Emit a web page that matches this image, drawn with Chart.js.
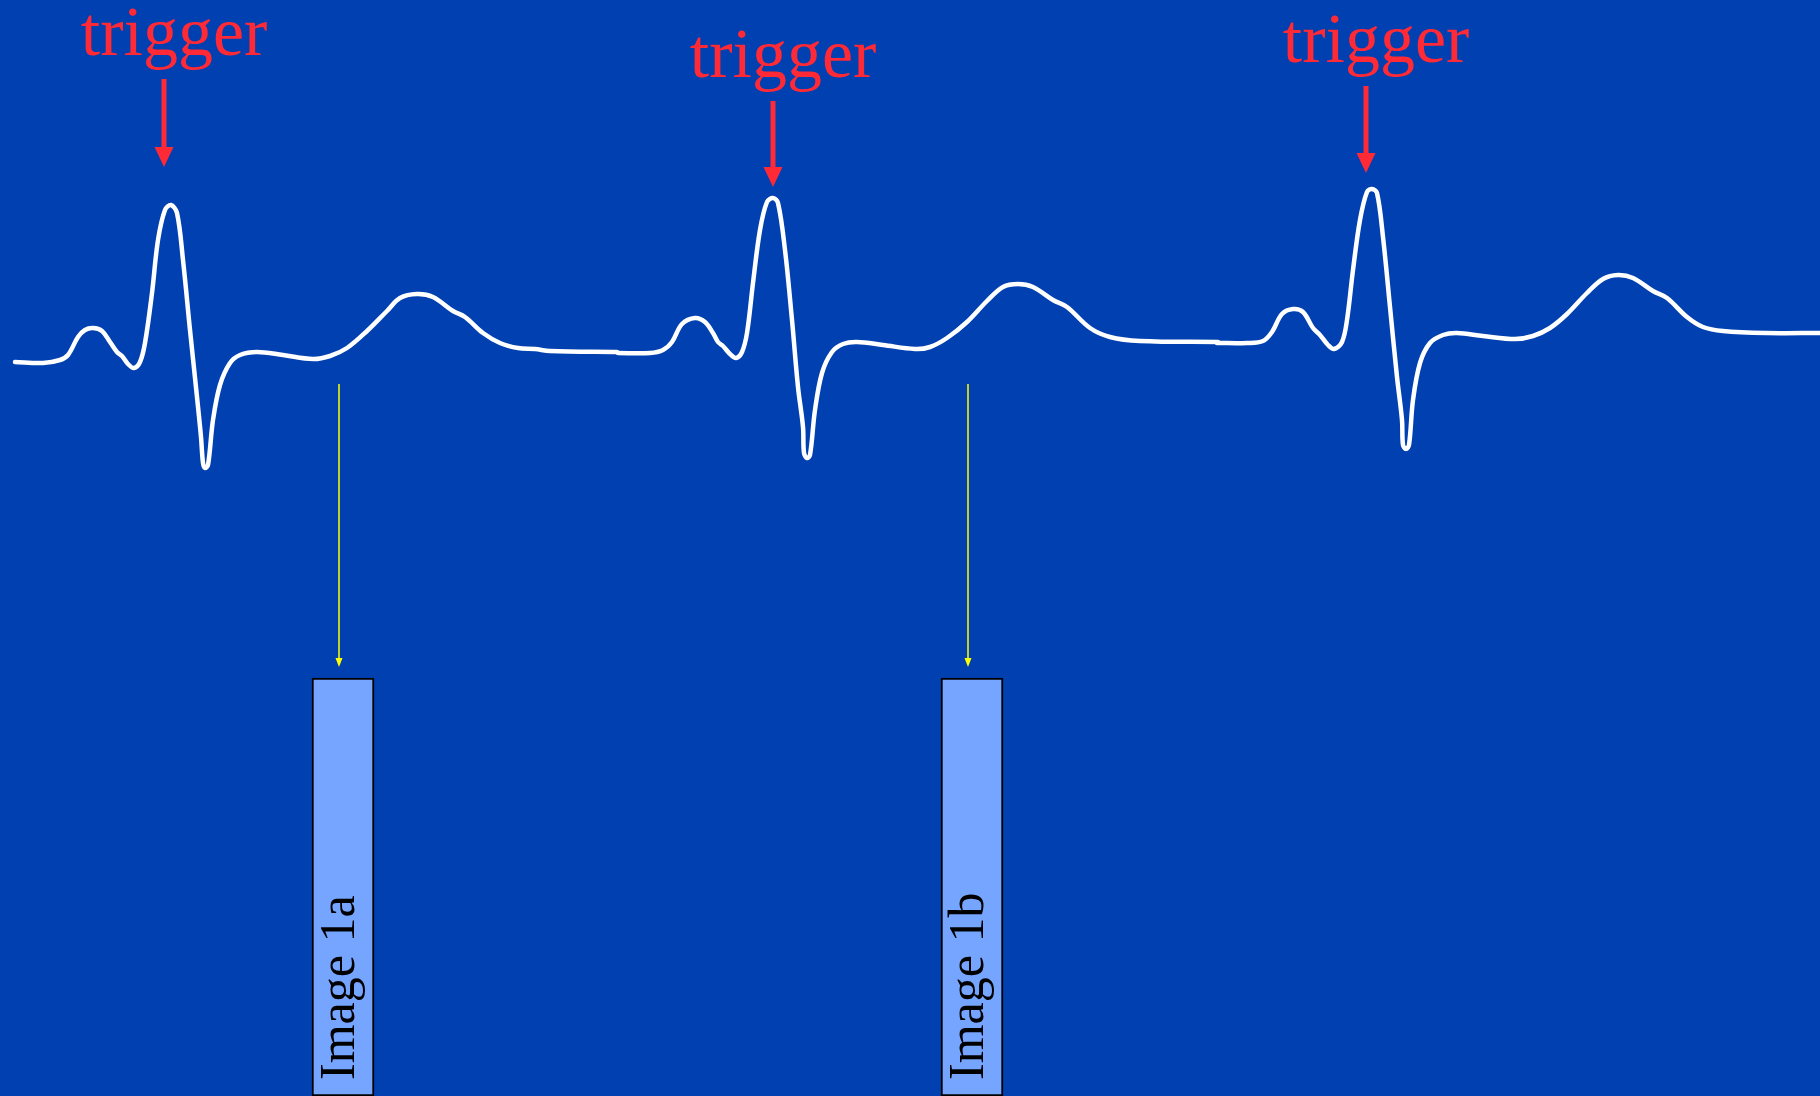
<!DOCTYPE html>
<html>
<head>
<meta charset="utf-8">
<title>ECG trigger</title>
<script src="https://cdn.jsdelivr.net/npm/chart.js@4.4.1/dist/chart.umd.min.js"></script>
<style>
    html, body { margin: 0; padding: 0; background: #0040b0; overflow: hidden; }
    canvas { display: block; }
</style>
</head>
<body>
<canvas id="ecgChart" width="1820" height="1096"></canvas>
<script>
// ECG beats (t = time units, v = amplitude units)
const beat1T = [15, 43, 60, 68, 78, 85, 93, 102, 110, 117, 122, 128, 134, 140, 145, 152, 158, 165, 171, 177, 183, 190, 197, 201, 203, 205, 208, 213, 220, 230, 240, 257, 283, 313, 330, 347, 367, 387, 400, 417, 433, 453, 465, 483, 500, 518, 535, 550, 617];
const beat1V = [38, 37, 40, 45, 63, 70, 72, 69, 58, 48, 44, 36, 32, 38, 57, 107, 160, 190, 195, 187, 140, 70, 3, -37, -63, -68, -65, -20, 15, 37, 45, 48, 45, 41, 44, 52, 69, 89, 102, 106, 103, 89, 83, 67, 57, 52, 51, 49, 48];

const beat2T = [618, 650, 663, 672, 682, 695, 705, 713, 718, 723, 730, 736, 742, 747, 753, 760, 767, 773, 778, 785, 792, 798, 803, 804, 807, 810, 815, 822, 832, 843, 857, 883, 915, 930, 947, 967, 987, 1003, 1018, 1033, 1053, 1067, 1090, 1110, 1140, 1218];
const beat2V = [47, 47, 50, 58, 76, 82, 78, 67, 58, 54, 46, 42, 48, 67, 117, 170, 198, 202, 197, 150, 80, 13, -27, -53, -58, -55, -10, 27, 48, 56, 58, 55, 51, 53, 62, 78, 99, 113, 116, 113, 100, 93, 72, 63, 59, 58];

const beat3T = [1217, 1247, 1263, 1272, 1282, 1293, 1303, 1313, 1320, 1328, 1334, 1342, 1347, 1353, 1360, 1367, 1372, 1377, 1383, 1390, 1397, 1402, 1403, 1406, 1409, 1413, 1420, 1430, 1443, 1457, 1483, 1515, 1533, 1550, 1567, 1587, 1603, 1618, 1633, 1653, 1667, 1687, 1703, 1723, 1767, 1820];
const beat3V = [57, 57, 59, 68, 86, 91, 88, 72, 65, 55, 51, 58, 80, 130, 180, 208, 211, 207, 163, 93, 23, -20, -45, -49, -45, 0, 37, 57, 65, 67, 64, 61, 64, 72, 86, 107, 121, 125, 122, 109, 102, 83, 73, 69, 67, 67];

// trigger arrows above each R wave
const triggerT = [164, 773, 1366];
const triggerFrom = [321, 299, 314];
const triggerTo = [233, 213, 227];
const triggerLabel = 'trigger';

// image acquisition windows
const imageT = [343, 972];
const imageRange = [[-696, -278], [-696, -278]];
const imageLabels = ['Image 1a', 'Image 1b'];
const acquireT = [339, 968];
const acquireFrom = [16, 16];
const acquireTo = [-267, -267];

const toPoints = (ts, vs) => ts.map((t, i) => ({ x: t, y: vs[i] }));

function ecgDataset(ts, vs) {
    return {
        type: 'line',
        data: toPoints(ts, vs),
        borderColor: '#ffffff',
        borderWidth: 4.5,
        pointRadius: 0,
        tension: 0.35,
        borderCapStyle: 'round',
        borderJoinStyle: 'round',
        clip: false
    };
}

function drawArrow(ctx, px, top, tip, color, width, headW, headL) {
    ctx.save();
    ctx.strokeStyle = color;
    ctx.fillStyle = color;
    ctx.lineWidth = width;
    ctx.beginPath();
    ctx.moveTo(px, top);
    ctx.lineTo(px, tip - headL + 1);
    ctx.stroke();
    ctx.beginPath();
    ctx.moveTo(px - headW / 2, tip - headL);
    ctx.lineTo(px + headW / 2, tip - headL);
    ctx.lineTo(px, tip);
    ctx.closePath();
    ctx.fill();
    ctx.restore();
}

const slideDecor = {
    id: 'slideDecor',
    beforeDraw(chart) {
        const ctx = chart.ctx;
        ctx.save();
        ctx.fillStyle = '#0040b0';
        ctx.fillRect(0, 0, chart.width, chart.height);
        ctx.restore();
    },
    afterDatasetsDraw(chart) {
        const { ctx, scales: { x, y } } = chart;

        triggerT.forEach((t, i) => {
            const px = x.getPixelForValue(t);
            const top = y.getPixelForValue(triggerFrom[i]);
            const tip = y.getPixelForValue(triggerTo[i]);
            drawArrow(ctx, px, top, tip, '#ff2a36', 5, 19, 20);
            ctx.save();
            ctx.fillStyle = '#ff2a36';
            ctx.font = '70px "Liberation Serif", "Times New Roman", serif';
            ctx.textAlign = 'center';
            ctx.textBaseline = 'alphabetic';
            ctx.fillText(triggerLabel, px + 10, top - 24);
            ctx.restore();
        });

        acquireT.forEach((t, i) => {
            drawArrow(ctx, x.getPixelForValue(t), y.getPixelForValue(acquireFrom[i]),
                y.getPixelForValue(acquireTo[i]), '#ffff00', 1.5, 7, 9);
        });

        const meta = chart.getDatasetMeta(0);
        meta.data.forEach((bar, i) => {
            ctx.save();
            ctx.translate(bar.x + 11, y.getPixelForValue(imageRange[i][0]) - 16);
            ctx.rotate(-Math.PI / 2);
            ctx.fillStyle = '#000000';
            ctx.font = '50px "Liberation Serif", "Times New Roman", serif';
            ctx.textAlign = 'left';
            ctx.textBaseline = 'alphabetic';
            ctx.fillText(imageLabels[i], 0, 0);
            ctx.restore();
        });
    }
};

new Chart(document.getElementById('ecgChart').getContext('2d'), {
    type: 'scatter',
    data: {
        datasets: [
            {
                type: 'bar',
                data: imageT.map((t, i) => ({ x: t, y: imageRange[i] })),
                backgroundColor: '#76a5ff',
                borderColor: '#000000',
                borderWidth: 2,
                borderSkipped: false,
                barThickness: 62
            },
            ecgDataset(beat1T, beat1V),
            ecgDataset(beat2T, beat2V),
            ecgDataset(beat3T, beat3V)
        ]
    },
    options: {
        responsive: false,
        devicePixelRatio: 1,
        animation: false,
        events: [],
        layout: { padding: 0 },
        plugins: {
            legend: { display: false },
            tooltip: { enabled: false }
        },
        scales: {
            x: { type: 'linear', min: 0, max: 1820, offset: false, display: false, grid: { offset: false } },
            y: { type: 'linear', min: -696, max: 400, display: false }
        }
    },
    plugins: [slideDecor]
});
</script>
</body>
</html>
